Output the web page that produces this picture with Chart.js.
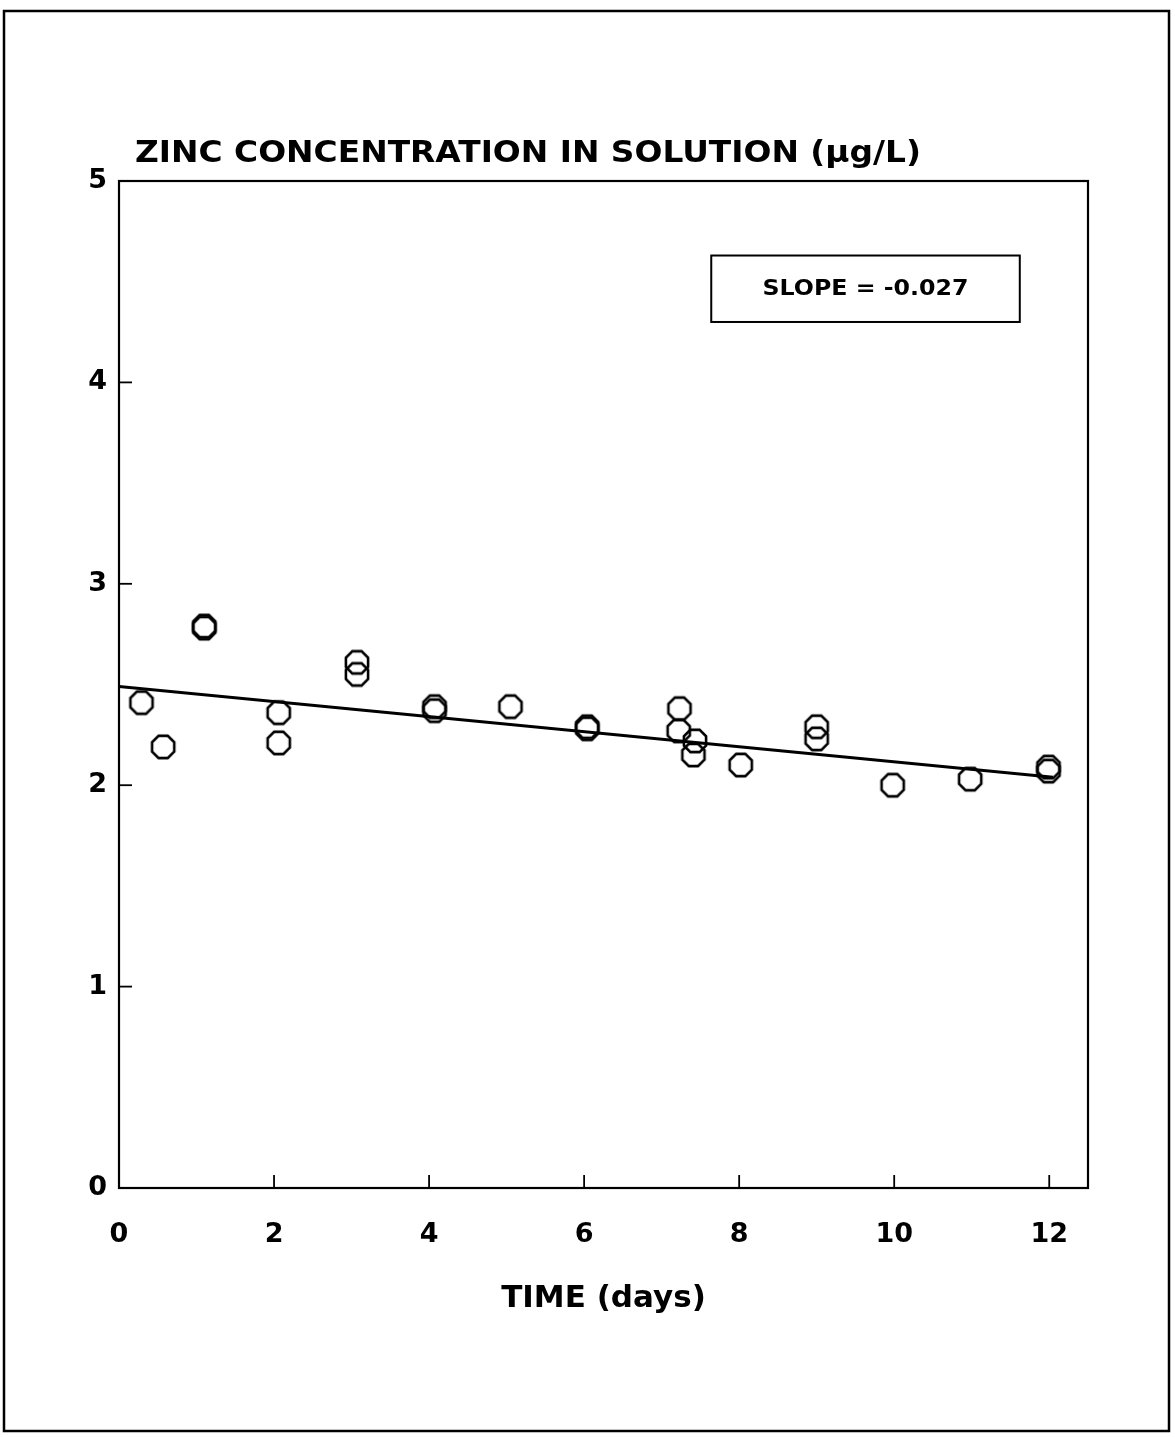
<!DOCTYPE html>
<html>
<head>
<meta charset="utf-8">
<script src="https://cdn.jsdelivr.net/npm/chart.js@4/dist/chart.umd.min.js"></script>
<style>
  body { margin: 0; background: #fff; }
  #wrap { width: 1175px; height: 1437px; position: relative; }
</style>
</head>
<body>
<div id="wrap"><canvas id="grafico"></canvas></div>
<script>
// dados
const tempoDias = [0.29, 0.57, 1.10, 1.10, 2.06, 2.06, 3.07, 3.07, 4.07, 4.07, 5.05, 6.04, 6.04,
                   7.23, 7.22, 7.43, 7.41, 8.02, 9.00, 9.00, 9.98, 10.98, 11.99, 11.99]
const zinco = [2.41, 2.19, 2.79, 2.78, 2.36, 2.21, 2.61, 2.55, 2.39, 2.37, 2.39, 2.29, 2.28,
               2.38, 2.27, 2.22, 2.15, 2.10, 2.29, 2.23, 2.00, 2.03, 2.09, 2.07]

// reta de regressão
const retaX = [0, 12.05]
const retaY = [2.49, 2.04]

const ticksX = [0, 2, 4, 6, 8, 10, 12]
const ticksY = [0, 1, 2, 3, 4, 5]

const fonteLarga = "'DejaVu Sans', sans-serif"

// marcador octogonal
const octogono = (() => {
    const c = document.createElement('canvas')
    c.width = 30
    c.height = 30
    const g = c.getContext('2d')
    g.strokeStyle = '#000'
    g.lineWidth = 2.6
    g.beginPath()
    for (let i = 0; i < 8; i++) {
        const a = Math.PI / 8 + i * Math.PI / 4
        const px = 15 + 12 * Math.cos(a)
        const py = 15 + 12 * Math.sin(a)
        if (i == 0) g.moveTo(px, py)
        else g.lineTo(px, py)
    }
    g.closePath()
    g.stroke()
    return c
})()

// texto esticado na horizontal até a largura pedida
const textoLargo = (ctx, texto, x, y, largura, align) => {
    const w = ctx.measureText(texto).width
    const k = largura / w
    ctx.save()
    ctx.translate(x, y)
    ctx.scale(k, 1)
    ctx.textAlign = align
    ctx.fillText(texto, 0, 0)
    ctx.restore()
}

const moldura = {
    id: 'moldura',
    afterDraw(chart) {
        const { ctx, chartArea: a, scales: { x, y } } = chart
        ctx.save()
        ctx.strokeStyle = '#000'

        // moldura da página
        ctx.lineWidth = 2.5
        ctx.strokeRect(4, 11, 1165, 1420)

        // caixa do gráfico
        ctx.lineWidth = 2.2
        ctx.strokeRect(a.left, a.top, a.right - a.left, a.bottom - a.top)

        // marcas para dentro
        ctx.lineWidth = 1.8
        ticksX.slice(1).forEach(v => {
            const px = x.getPixelForValue(v)
            ctx.beginPath()
            ctx.moveTo(px, a.bottom)
            ctx.lineTo(px, a.bottom - 13)
            ctx.stroke()
        })
        ticksY.slice(1, -1).forEach(v => {
            const py = y.getPixelForValue(v)
            ctx.beginPath()
            ctx.moveTo(a.left, py)
            ctx.lineTo(a.left + 13, py)
            ctx.stroke()
        })

        // título
        ctx.fillStyle = '#000'
        ctx.font = 'bold 30px ' + fonteLarga
        ctx.textBaseline = 'middle'
        textoLargo(ctx, 'ZINC CONCENTRATION IN SOLUTION (µg/L)', a.left + 16, a.top - 27, 786, 'left')

        // caixa da inclinação
        const bx0 = x.getPixelForValue(7.64), bx1 = x.getPixelForValue(11.62)
        const by0 = y.getPixelForValue(4.63), by1 = y.getPixelForValue(4.30)
        ctx.lineWidth = 2
        ctx.strokeRect(bx0, by0, bx1 - bx0, by1 - by0)
        ctx.font = 'bold 21px ' + fonteLarga
        textoLargo(ctx, 'SLOPE = -0.027', (bx0 + bx1) / 2, (by0 + by1) / 2 + 1, 206, 'center')
        ctx.restore()
    }
}

const config = {
    type: 'scatter',
    data: {
        datasets: [{
            data: tempoDias.map((t, i) => ({ x: t, y: zinco[i] })),
            pointStyle: octogono,
            pointRadius: 12,
            showLine: false
        }, {
            data: retaX.map((t, i) => ({ x: t, y: retaY[i] })),
            showLine: true,
            borderColor: '#000',
            borderWidth: 3,
            pointRadius: 0
        }]
    },
    options: {
        responsive: true,
        maintainAspectRatio: false,
        animation: false,
        layout: {
            padding: { top: 181, right: 87, left: 0, bottom: 0 }
        },
        plugins: {
            legend: { display: false },
            tooltip: { enabled: false }
        },
        scales: {
            x: {
                type: 'linear',
                min: 0,
                max: 12.5,
                afterFit: s => { s.height = 249 },
                afterBuildTicks: s => { s.ticks = ticksX.map(v => ({ value: v })) },
                grid: { display: false, drawTicks: false },
                border: { display: false },
                ticks: {
                    color: '#000',
                    padding: 31,
                    font: { family: fonteLarga, size: 27, weight: 'bold' }
                },
                title: {
                    display: true,
                    text: 'TIME (days)',
                    color: '#000',
                    font: { family: fonteLarga, size: 31, weight: 'bold' },
                    padding: { top: 0, bottom: 119 }
                }
            },
            y: {
                min: 0,
                max: 5,
                afterFit: s => { s.width = 119 },
                afterBuildTicks: s => { s.ticks = ticksY.map(v => ({ value: v })) },
                grid: { display: false, drawTicks: false },
                border: { display: false },
                ticks: {
                    color: '#000',
                    padding: 12,
                    font: { family: fonteLarga, size: 27, weight: 'bold' }
                }
            }
        }
    },
    plugins: [moldura]
}

new Chart(document.getElementById('grafico'), config)
</script>
</body>
</html>
